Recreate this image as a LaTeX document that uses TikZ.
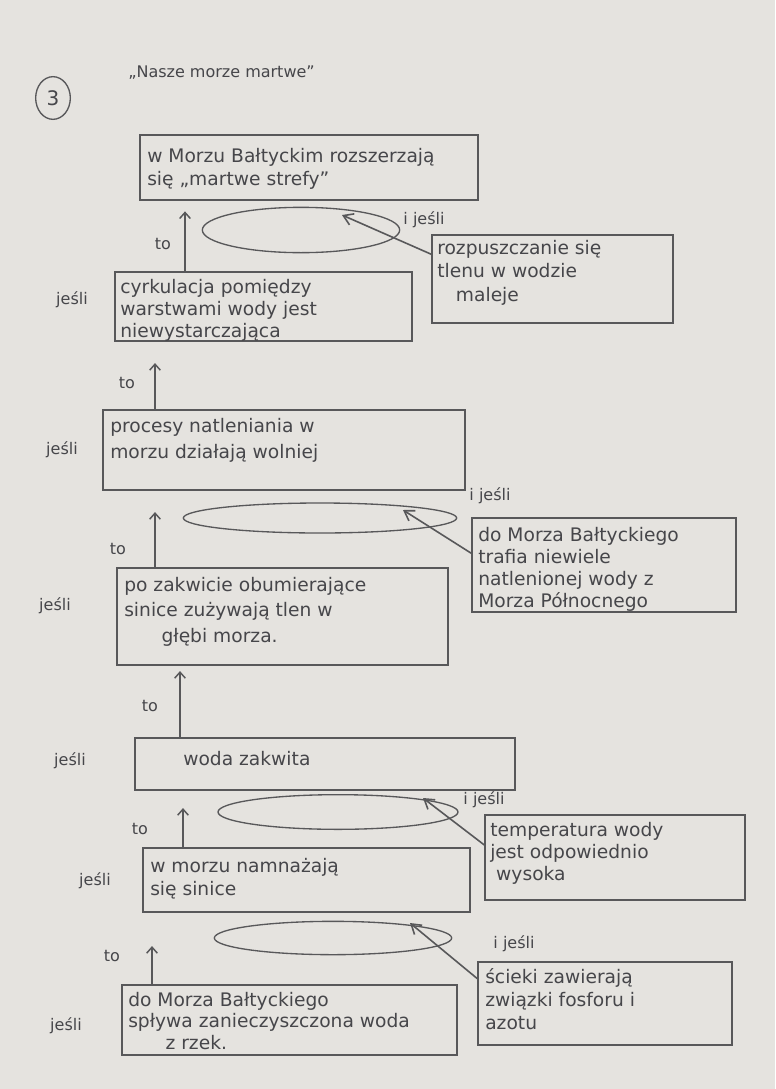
\documentclass[tikz,border=0pt]{standalone}
\usepackage{fontspec}
\setmainfont{DejaVu Sans}
\usetikzlibrary{arrows.meta,fit,shapes.geometric}
\definecolor{paper}{RGB}{229,227,223}
\definecolor{pencil}{RGB}{88,88,90}
\definecolor{ink}{RGB}{70,70,74}
\tikzset{
  box/.style={draw=pencil, line width=1.1pt, inner sep=0pt},
  blob/.style={draw=pencil, line width=1pt, ellipse, inner sep=0pt},
  txt/.style={anchor=north west, align=left, inner sep=0pt, text=ink,
    font=\fontsize{14}{17.5}\selectfont},
  lbl/.style={inner sep=0pt, text=ink, font=\fontsize{12}{14}\selectfont},
  up/.style={draw=pencil, line width=1.1pt, -{Straight Barb[length=4.5pt,width=8pt]}},
  feed/.style={draw=pencil, line width=1.2pt, -{Straight Barb[length=7pt,width=9pt]}}
}
\begin{document}
\begin{tikzpicture}[x=0.75pt,y=-0.75pt]
  % sheet of paper
  \fill[paper] (0,0) rectangle (775,1089);
  \useasboundingbox (0,0) rectangle (775,1089);

  % heading
  \node[draw=pencil, line width=1pt, ellipse, minimum width=26pt, minimum height=32pt,
        inner sep=0pt, text=ink, font=\fontsize{15}{17}\selectfont] (num) at (53,98) {3};
  \node[lbl, anchor=west, font=\fontsize{12}{14}\selectfont] (title) at (128,73) {„Nasze morze martwe”};

  % condition boxes
  \node[box, fit={(140,135)(478,200)}] (a) {};
  \node[box, fit={(432,235)(673,323)}] (r1) {};
  \node[box, fit={(115,272)(412,341)}] (b) {};
  \node[box, fit={(103,410)(465,490)}] (c) {};
  \node[box, fit={(472,518)(736,612)}] (r2) {};
  \node[box, fit={(117,568)(448,665)}] (d) {};
  \node[box, fit={(135,738)(515,790)}] (e) {};
  \node[box, fit={(485,815)(745,900)}] (r3) {};
  \node[box, fit={(143,848)(470,912)}] (f) {};
  \node[box, fit={(478,962)(732,1045)}] (r4) {};
  \node[box, fit={(122,985)(457,1055)}] (g) {};

  % box texts
  \node[txt] (ta) at (147,148) {w Morzu Bałtyckim rozszerzają\\się „martwe strefy”};
  \node[txt] (tr1) at (437,240) {rozpuszczanie się\\tlenu w wodzie\\\quad maleje};
  \node[txt, font=\fontsize{14}{16.5}\selectfont] (tb) at (120,279) {cyrkulacja pomiędzy\\warstwami wody jest\\niewystarczająca};
  \node[txt, font=\fontsize{14}{19.5}\selectfont] (tc) at (110,418) {procesy natleniania w\\morzu działają wolniej};
  \node[txt, font=\fontsize{14}{16.5}\selectfont] (tr2) at (478,527) {do Morza Bałtyckiego\\trafia niewiele\\natlenionej wody z\\Morza Północnego};
  \node[txt, font=\fontsize{14}{19}\selectfont] (td) at (124,577) {po zakwicie obumierające\\sinice zużywają tlen w\\\qquad głębi morza.};
  \node[txt] (te) at (183,751) {woda zakwita};
  \node[txt, font=\fontsize{14}{16.5}\selectfont] (tr3) at (490,822) {temperatura wody\\jest odpowiednio\\\ wysoka};
  \node[txt] (tf) at (150,858) {w morzu namnażają\\się sinice};
  \node[txt] (tr4) at (485,968) {ścieki zawierają\\związki fosforu i\\azotu};
  \node[txt, font=\fontsize{14}{16}\selectfont] (tg) at (128,992) {do Morza Bałtyckiego\\spływa zanieczyszczona woda\\\qquad z rzek.};

  % thought bubbles where the extra conditions join
  \node[blob, minimum width=148pt, minimum height=34pt] (ea) at (301,230) {};
  \node[blob, minimum width=205pt, minimum height=22.5pt] (ec) at (320,518) {};
  \node[blob, minimum width=180pt, minimum height=26pt] (ee) at (338,812) {};
  \node[blob, minimum width=178pt, minimum height=25pt] (ef) at (333,938) {};

  % "jeśli" / "to" / "i jeśli" labels
  \node[lbl] (jb) at (72,300) {jeśli};
  \node[lbl] (jc) at (62,450) {jeśli};
  \node[lbl] (jd) at (55,606) {jeśli};
  \node[lbl] (je) at (70,761) {jeśli};
  \node[lbl] (jf) at (95,881) {jeśli};
  \node[lbl] (jg) at (66,1026) {jeśli};
  \node[lbl] (toa) at (163,244) {to};
  \node[lbl] (tob) at (127,383) {to};
  \node[lbl] (toc) at (118,549) {to};
  \node[lbl] (tod) at (150,706) {to};
  \node[lbl] (toe) at (140,829) {to};
  \node[lbl] (tof) at (112,956) {to};
  \node[lbl] (ia) at (424,220) {i jeśli};
  \node[lbl] (ic) at (490,496) {i jeśli};
  \node[lbl] (ie) at (484,800) {i jeśli};
  \node[lbl] (if) at (514,944) {i jeśli};

  % columns of the upward implication arrows
  \coordinate (xa) at (185,0);
  \coordinate (xb) at (155,0);
  \coordinate (xc) at (155,0);
  \coordinate (xd) at (180,0);
  \coordinate (xe) at (183,0);
  \coordinate (xf) at (152,0);
  \draw[up, shorten >=8pt]  (b.north -| xa) -- (a.south -| xa);
  \draw[up, shorten >=16pt] (c.north -| xb) -- (b.south -| xb);
  \draw[up, shorten >=16pt] (d.north -| xc) -- (c.south -| xc);
  \draw[up, shorten >=4pt]  (e.north -| xd) -- (d.south -| xd);
  \draw[up, shorten >=13pt] (f.north -| xe) -- (e.south -| xe);
  \draw[up, shorten >=25pt] (g.north -| xf) -- (f.south -| xf);

  % extra conditions pointing into the bubbles
  \coordinate (pa) at (342,215);
  \coordinate (pc) at (403,510);
  \coordinate (pe) at (423,798);
  \coordinate (pf) at (410,923);
  \draw[feed] ([yshift=-15pt]r1.north west) -- (pa);
  \draw[feed] ([yshift=-27pt]r2.north west) -- (pc);
  \draw[feed] ([yshift=-23pt]r3.north west) -- (pe);
  \draw[feed] ([yshift=-13pt]r4.north west) -- (pf);
\end{tikzpicture}
\end{document}
